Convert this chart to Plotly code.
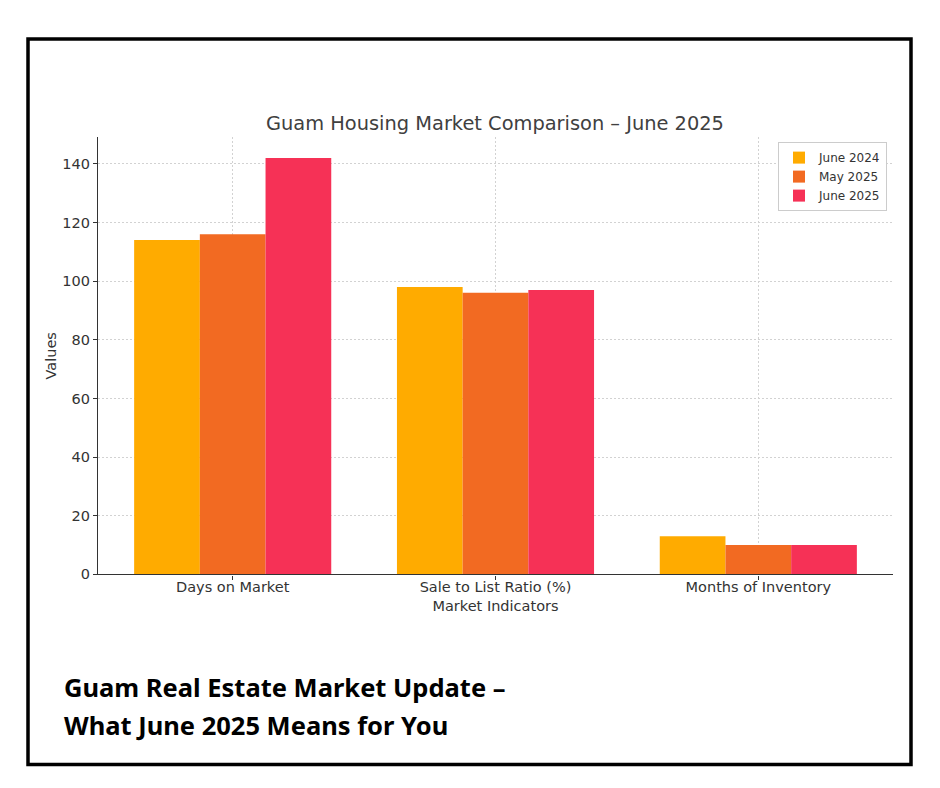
import plotly.graph_objects as go

categories = ["Days on Market", "Sale to List Ratio (%)", "Months of Inventory"]
series_names = ["June 2024", "May 2025", "June 2025"]
june_2024 = [114, 98, 13]
may_2025 = [116, 96, 10]
june_2025 = [142, 97, 10]
colors = ["#FFAB00", "#F26A22", "#F63156"]
y_ticks = [0, 20, 40, 60, 80, 100, 120, 140]

W, H = 940, 788
K = 1.011
def px(x):
    return x / W
def py(y):
    return 1 - (y * K) / H

fig = go.Figure()
for name, vals, c in zip(series_names, [june_2024, may_2025, june_2025], colors):
    fig.add_trace(go.Bar(x=categories, y=vals, name=name, marker=dict(color=c, line=dict(width=0))))

fig.update_layout(
    width=W, height=H,
    margin=dict(l=0, r=0, t=0, b=0),
    paper_bgcolor="white", plot_bgcolor="white",
    barmode="group", bargap=0.25, bargroupgap=0,
    font=dict(family="DejaVu Sans", size=14.5, color="#333333"),
    title=dict(text="Guam Housing Market Comparison – June 2025", x=px(495), xanchor="center",
               y=py(122), yanchor="middle", font=dict(size=19.4, color="#404040")),
    xaxis=dict(domain=[px(98), px(893)], range=[-0.5125, 2.5125], type="category",
               showline=True, linecolor="#333333", linewidth=1.3,
               ticks="outside", ticklen=4, tickcolor="#333333",
               ticklabelstandoff=-5,
               showgrid=True, gridcolor="#d2d2d2", griddash="2px,2px", gridwidth=1,
               title=dict(text="Market Indicators", font=dict(size=14.5), standoff=6),
               tickfont=dict(size=14.5)),
    yaxis=dict(domain=[py(574), py(137)], range=[0, 149.1], tickvals=y_ticks,
               showline=True, linecolor="#333333", linewidth=1.3,
               ticks="outside", ticklen=4, tickcolor="#333333",
               showgrid=True, gridcolor="#d2d2d2", griddash="2px,2px", gridwidth=1,
               zeroline=False,
               title=dict(text="Values", font=dict(size=14.5), standoff=2),
               tickfont=dict(size=14.5)),
    legend=dict(x=px(887), xanchor="right", y=py(142), yanchor="top",
                bgcolor="white", bordercolor="#cccccc", borderwidth=1,
                font=dict(size=12, color="#333333"), tracegroupgap=0),
    showlegend=True,
)

fig.add_shape(type="rect", xref="paper", yref="paper",
              x0=px(28), x1=px(911), y0=py(764), y1=py(39),
              line=dict(color="black", width=3.5), fillcolor="rgba(0,0,0,0)", layer="above")

fig.add_annotation(xref="paper", yref="paper", x=px(62), y=py(686), xanchor="left", yanchor="middle",
                   text="<b>Guam Real Estate Market Update –</b>", showarrow=False,
                   font=dict(family="Noto Sans", size=25.5, color="black"))
fig.add_annotation(xref="paper", yref="paper", x=px(62), y=py(724), xanchor="left", yanchor="middle",
                   text="<b>What June 2025 Means for You</b>", showarrow=False,
                   font=dict(family="Noto Sans", size=25.5, color="black"))

fig.write_html("out.html")
